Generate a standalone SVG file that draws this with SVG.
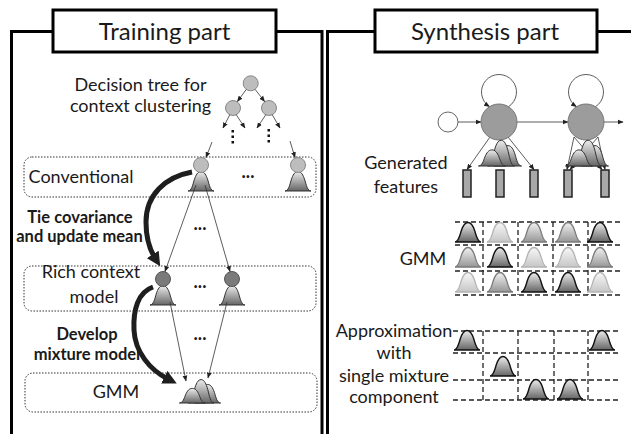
<svg xmlns="http://www.w3.org/2000/svg" xmlns:xlink="http://www.w3.org/1999/xlink" width="631" height="434" viewBox="0 0 631 434">
<style>
.t{font-family:Lato,"Liberation Sans",sans-serif;fill:#1a1a1a;text-anchor:middle}
.title{font-size:24px}
.lbl{font-size:18px}
.b{font-size:16.5px;font-weight:bold}
.dots{font-size:18px;font-weight:bold}
.frame{fill:none;stroke:#000;stroke-width:3}
.tbox{fill:#fff;stroke:#000;stroke-width:3}
.dbox{fill:none;stroke:#333;stroke-width:1;stroke-dasharray:1.5 1.5}
.grid{stroke:#222;stroke-width:1.3;stroke-dasharray:5 3;fill:none}
.thin{stroke:#333;stroke-width:0.8;fill:none;marker-end:url(#ah)}
.thick{stroke:#1e1e1e;stroke-width:5;fill:none;marker-end:url(#ahb)}
.tn{fill:#bdbdbd;stroke:#888;stroke-width:1}
.rn{fill:#7a7a7a;stroke:#555;stroke-width:1}
.hn{fill:#9c9c9c;stroke:#777;stroke-width:1}
.bd{fill:url(#gDk);stroke:#111;stroke-width:1.4}
.bm{fill:url(#gMd);stroke:#7a7a7a;stroke-width:1.3}
.bl{fill:url(#gLt);stroke:#b4b4b4;stroke-width:1.3}
.bt{fill:url(#gDk);stroke:#333;stroke-width:1}
.feat{fill:#a8a8a8;stroke:#222;stroke-width:1.5}
</style>
<defs>
<linearGradient id="gDk" x1="0" y1="0" x2="0" y2="1"><stop offset="0" stop-color="#ededed"/><stop offset="1" stop-color="#656565"/></linearGradient>
<linearGradient id="gMd" x1="0" y1="0" x2="0" y2="1"><stop offset="0" stop-color="#f2f2f2"/><stop offset="1" stop-color="#969696"/></linearGradient>
<linearGradient id="gLt" x1="0" y1="0" x2="0" y2="1"><stop offset="0" stop-color="#f8f8f8"/><stop offset="1" stop-color="#c6c6c6"/></linearGradient>
<path id="bell" vector-effect="non-scaling-stroke" d="M-13,0 C-9.5,0 -8.3,-6 -6.8,-11 C-5.2,-16 -3.2,-19.5 0,-19.5 C3.2,-19.5 5.2,-16 6.8,-11 C8.3,-6 9.5,0 13,0 Z"/>
<g id="mix">
<use xlink:href="#bell" transform="translate(7,0) scale(0.9,0.95)"/>
<use xlink:href="#bell" transform="translate(1,0) scale(0.9,1.2)"/>
<use xlink:href="#bell" transform="translate(-7,0) scale(0.9,0.75)"/>
</g>
<marker id="ah" viewBox="0 0 10 10" refX="9" refY="5" markerWidth="6" markerHeight="6" markerUnits="userSpaceOnUse" orient="auto"><path d="M0,1 L10,5 L0,9 z" fill="#222"/></marker>
<marker id="ahb" viewBox="0 0 10 10" refX="3" refY="5" markerWidth="14" markerHeight="14" markerUnits="userSpaceOnUse" orient="auto"><path d="M0,0 L10,5 L0,10 z" fill="#1e1e1e"/></marker>
</defs>
<rect width="631" height="434" fill="#fff"/>

<g id="training-frame">
<path class="frame" d="M11.5,434 V31.5 H53 M276,31.5 H322 V434"/>
<rect class="tbox" x="53" y="10" width="223" height="42"/>
<text class="t title" x="164.5" y="40">Training part</text>
</g>

<g id="synthesis-frame">
<path class="frame" d="M327.5,434 V31.5 H375 M597,31.5 H631"/>
<rect class="tbox" x="375" y="10" width="222" height="42"/>
<text class="t title" x="485" y="40">Synthesis part</text>
</g>

<g id="tree-label">
<text class="t lbl" x="140.5" y="91">Decision tree for</text>
<text class="t lbl" x="140.5" y="112">context clustering</text>
</g>

<g id="decision-tree">
<circle class="tn" cx="250.7" cy="83.3" r="7.5"/>
<circle class="tn" cx="233" cy="108" r="7.5"/>
<circle class="tn" cx="269" cy="108" r="7.5"/>
<g fill="#111">
<rect x="231.5" y="130" width="2.5" height="2.5"/><rect x="231.5" y="135.5" width="2.5" height="2.5"/><rect x="231.5" y="141" width="2.5" height="2.5"/>
<rect x="267.5" y="129" width="2.5" height="2.5"/><rect x="267.5" y="134.5" width="2.5" height="2.5"/><rect x="267.5" y="140" width="2.5" height="2.5"/>
</g>
</g>

<g id="conventional">
<rect class="dbox" x="24" y="157" width="292" height="40" rx="8"/>
<text class="t lbl" x="81" y="183">Conventional</text>
<use xlink:href="#bell" class="bt" transform="translate(201,191)"/>
<circle class="tn" cx="201" cy="165" r="7.5"/>
<use xlink:href="#bell" class="bt" transform="translate(298,191)"/>
<circle class="tn" cx="298" cy="165" r="7.5"/>
<text class="t dots" x="248" y="178">...</text>
</g>

<g id="tie-label">
<text class="t b" x="80" y="223">Tie covariance</text>
<text class="t b" x="79.5" y="242">and update mean</text>
<text class="t dots" x="200" y="230">...</text>
</g>

<g id="rich-context">
<rect class="dbox" x="24" y="266" width="292" height="45" rx="8"/>
<text class="t lbl" x="91" y="278">Rich context</text>
<text class="t lbl" x="94" y="303">model</text>
<use xlink:href="#bell" class="bt" transform="translate(163,305)"/>
<circle class="rn" cx="163" cy="279" r="7.5"/>
<use xlink:href="#bell" class="bt" transform="translate(232,305)"/>
<circle class="rn" cx="232" cy="279" r="7.5"/>
<text class="t dots" x="200" y="288">...</text>
</g>

<g id="develop-label">
<text class="t b" x="87" y="340">Develop</text>
<text class="t b" x="87" y="360">mixture model</text>
<text class="t dots" x="200" y="340">...</text>
</g>

<g id="gmm-training">
<rect class="dbox" x="25" y="373" width="292" height="39" rx="8"/>
<text class="t lbl" x="116" y="398">GMM</text>
<use xlink:href="#mix" class="bt" transform="translate(200,403) scale(1.1,1)"/>
</g>

<g id="connectors">
<line class="thin" x1="246.3" y1="89.4" x2="237.4" y2="101.5"/>
<line class="thin" x1="255.1" y1="89.4" x2="264.6" y2="101.5"/>
<line class="thin" x1="229.8" y1="114.7" x2="223" y2="128"/>
<line class="thin" x1="236.2" y1="114.7" x2="245" y2="128"/>
<line class="thin" x1="265.8" y1="114.7" x2="257" y2="128"/>
<line class="thin" x1="272.2" y1="114.7" x2="280" y2="128"/>
<line class="thin" x1="212" y1="142" x2="206" y2="157.5"/>
<line class="thin" x1="290" y1="141" x2="295" y2="157.5"/>
<line class="thin" x1="196" y1="185" x2="165" y2="271.5"/>
<line class="thin" x1="205" y1="185" x2="230" y2="271.5"/>
<line class="thin" x1="170" y1="302" x2="186" y2="381"/>
<line class="thin" x1="227" y1="302" x2="208" y2="378"/>
<path class="thick" d="M192,172 C165,177 146,195 146,222 C146,240 150,250 155,258"/>
<path class="thick" d="M153,287 C138,292 133,310 134,330 C135,352 150,370 168,379"/>
<line class="thin" x1="458" y1="122" x2="481" y2="122"/>
<line class="thin" x1="517" y1="122" x2="568" y2="122"/>
<line class="thin" x1="604" y1="122" x2="623" y2="122"/>
<path class="thin" d="M508.5,106.7 A17.5 17.5 0 1 0 489.5,106.7"/>
<path class="thin" d="M595.5,106.7 A17.5 17.5 0 1 0 576.5,106.7"/>
<line class="thin" x1="490" y1="137" x2="467" y2="169.5"/>
<line class="thin" x1="508" y1="137" x2="534" y2="169.5"/>
<line class="thin" x1="574" y1="137" x2="567" y2="169.5"/>
<line class="thin" x1="598" y1="137" x2="570" y2="169.5"/>
<line class="thin" x1="598" y1="137" x2="605" y2="169.5"/>
<line class="thin" x1="574" y1="137" x2="602" y2="169.5"/>
</g>

<g id="hmm-states">
<circle cx="448" cy="122" r="10" fill="#fff" stroke="#666" stroke-width="1"/>
<circle class="hn" cx="499" cy="122" r="18"/>
<circle class="hn" cx="586" cy="122" r="18"/>
<use xlink:href="#mix" class="bt" transform="translate(500,166) scale(1.15,1.1)"/>
<use xlink:href="#mix" class="bt" transform="translate(587,166) scale(1.15,1.1)"/>
</g>

<g id="generated-features">
<text class="t lbl" x="406" y="169">Generated</text>
<text class="t lbl" x="406" y="193">features</text>
<rect class="feat" x="463" y="170" width="8" height="27"/>
<rect class="feat" x="496" y="170" width="8" height="27"/>
<rect class="feat" x="530" y="170" width="8" height="27"/>
<rect class="feat" x="564" y="170" width="8" height="27"/>
<rect class="feat" x="601" y="170" width="8" height="27"/>
</g>

<g id="gmm-grid">
<text class="t lbl" x="423" y="265">GMM</text>
<path class="grid" d="M455,222 H622 M455,245 H622 M455,271 H622 M455,295 H622 M483,222 V295 M518,222 V295 M553,222 V295 M588,222 V295"/>
<use xlink:href="#bell" class="bd" transform="translate(468,242)"/>
<use xlink:href="#bell" class="bl" transform="translate(500,242)"/>
<use xlink:href="#bell" class="bm" transform="translate(534,242)"/>
<use xlink:href="#bell" class="bm" transform="translate(568,242)"/>
<use xlink:href="#bell" class="bd" transform="translate(600,242)"/>
<use xlink:href="#bell" class="bm" transform="translate(468,267)"/>
<use xlink:href="#bell" class="bd" transform="translate(500,267)"/>
<use xlink:href="#bell" class="bl" transform="translate(534,267)"/>
<use xlink:href="#bell" class="bl" transform="translate(568,267)"/>
<use xlink:href="#bell" class="bm" transform="translate(600,267)"/>
<use xlink:href="#bell" class="bl" transform="translate(468,292)"/>
<use xlink:href="#bell" class="bm" transform="translate(500,292)"/>
<use xlink:href="#bell" class="bd" transform="translate(534,292)"/>
<use xlink:href="#bell" class="bd" transform="translate(568,292)"/>
<use xlink:href="#bell" class="bl" transform="translate(600,292)"/>
</g>

<g id="approx-grid">
<text class="t lbl" x="394" y="337">Approximation</text>
<text class="t lbl" x="394" y="359">with</text>
<text class="t lbl" x="394" y="382">single mixture</text>
<text class="t lbl" x="394" y="403">component</text>
<path class="grid" d="M453,331 H620 M453,353 H620 M453,380 H620 M453,400 H620 M483,331 V400 M518,331 V400 M554,331 V400 M588,331 V400"/>
<use xlink:href="#bell" class="bd" transform="translate(467,350)"/>
<use xlink:href="#bell" class="bd" transform="translate(602,350)"/>
<use xlink:href="#bell" class="bd" transform="translate(503,376)"/>
<use xlink:href="#bell" class="bd" transform="translate(536,399)"/>
<use xlink:href="#bell" class="bd" transform="translate(570,399)"/>
</g>
</svg>
